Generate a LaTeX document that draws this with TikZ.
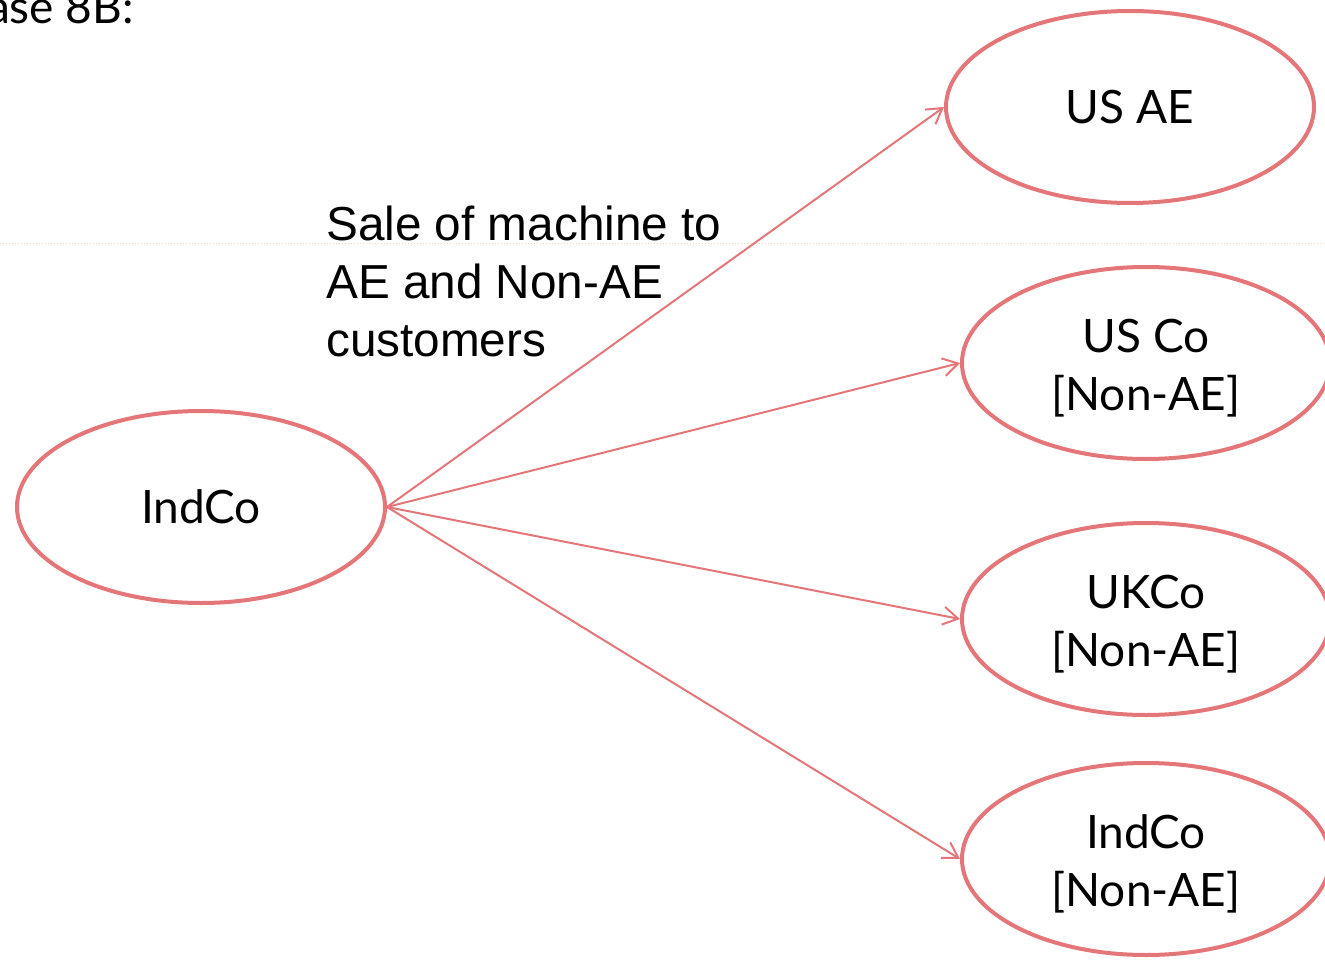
\documentclass[tikz,border=0pt]{standalone}
\usepackage{fontspec}
\setmainfont{Lato}
\newfontfamily\arialfont{Liberation Sans}
\usetikzlibrary{arrows.meta,shapes.geometric}
\definecolor{pinkred}{RGB}{228,118,121}
\definecolor{guide}{RGB}{240,214,170}
\newcommand{\toppad}{\rule{0pt}{43pt}}
\tikzset{
  party/.style={ellipse, draw=pinkred, line width=4pt, minimum width=368pt, minimum height=192pt, inner sep=0pt, align=center, font=\fontsize{46}{58}\selectfont},
  sale/.style={draw=pinkred, line width=2pt, -{Straight Barb[length=15pt,width=18pt,line width=2pt]}},
}
\begin{document}
\begin{tikzpicture}[x=1pt,y=-1pt]
\useasboundingbox (0,0) rectangle (1325,960);
\clip (0,0) rectangle (1325,960);
\draw[guide, line width=1pt, dotted] (0,243) coordinate (gl) -- (1325,243) coordinate (gr);
\node[anchor=base east, inner sep=0pt, font=\fontsize{46}{53}\selectfont] (title) at (134,24) {Case 8B:};
\node[party] (src) at (201,507) {IndCo};
\node[party] (usae) at (1130,107) {US AE};
\node[party] (usco) at (1146,363) {\toppad US Co\\{[Non-AE]}};
\node[party] (ukco) at (1146,619) {\toppad UKCo\\{[Non-AE]}};
\node[party] (indco) at (1146,859) {\toppad IndCo\\{[Non-AE]}};
\node[anchor=north west, inner sep=0pt, align=left, font=\arialfont\fontsize{47.7}{58}\selectfont] (lbl) at (326,206) {Sale of machine to\\AE and Non-AE\\customers};
\draw[sale] (src.east) -- (usae.west);
\draw[sale] (src.east) -- (usco.west);
\draw[sale] (src.east) -- (ukco.west);
\draw[sale] (src.east) -- (indco.west);
\end{tikzpicture}
\end{document}
